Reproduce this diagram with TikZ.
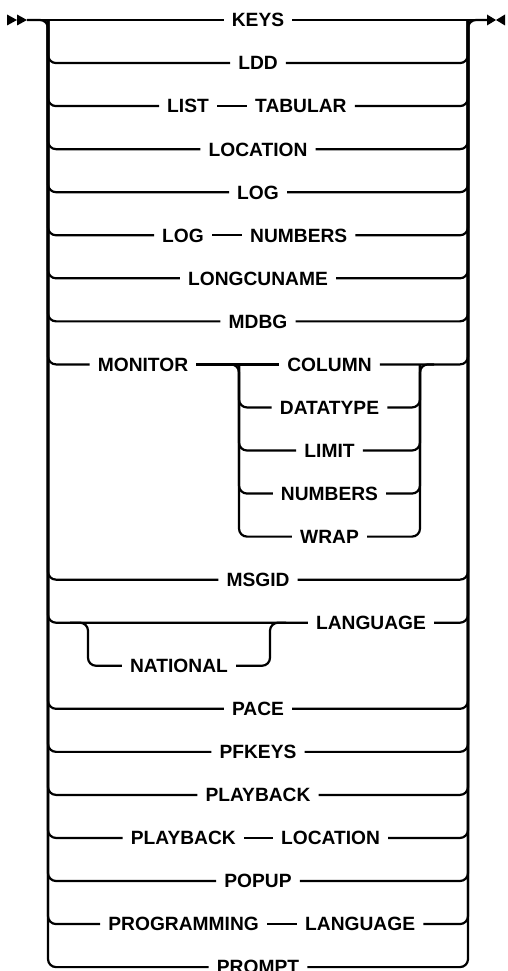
\documentclass[tikz,border=0pt]{standalone}
\usepackage{fontspec}
\newfontfamily\termfont{Liberation Sans}
\begin{document}
\begin{tikzpicture}[x=1pt,y=-1pt,
  term/.style={font={\termfont\bfseries\fontsize{19.2}{19.2}\selectfont}, inner xsep=8pt, inner ysep=0pt, text height=13.7pt, text depth=0pt},
  ln/.style={line width=2.2pt},
  rail/.style={line width=2.2pt, rounded corners=8pt},
  tip/.style={fill=black}]
\useasboundingbox (0,0) rectangle (507,971);

% terms
\node[term] (keys) at (258,20) {KEYS};
\node[term] (ldd) at (258,63.05) {LDD};
\node[term,anchor=east] (list) at (217,106.1) {LIST};
\node[term,anchor=west] (tabular) at (247,106.1) {TABULAR};
\node[term] (location) at (258,149.15) {LOCATION};
\node[term] (log) at (258,192.2) {LOG};
\node[term,anchor=east] (log2) at (212,235.25) {LOG};
\node[term,anchor=west] (numbers) at (242,235.25) {NUMBERS};
\node[term] (longcuname) at (258,278.3) {LONGCUNAME};
\node[term] (mdbg) at (258,321.35) {MDBG};
\node[term] (monitor) at (143,364.4) {MONITOR};
\node[term] (column) at (329.5,364.4) {COLUMN};
\node[term] (datatype) at (329.5,407.45) {DATATYPE};
\node[term] (limit) at (329.5,450.5) {LIMIT};
\node[term] (numbers2) at (329.5,493.55) {NUMBERS};
\node[term] (wrap) at (329.5,536.6) {WRAP};
\node[term] (msgid) at (258,579.65) {MSGID};
\node[term] (language) at (371,622.7) {LANGUAGE};
\node[term] (national) at (179,665.75) {NATIONAL};
\node[term] (pace) at (258,708.8) {PACE};
\node[term] (pfkeys) at (258,751.85) {PFKEYS};
\node[term] (playback) at (258,794.9) {PLAYBACK};
\node[term,anchor=east] (playback2) at (244,837.95) {PLAYBACK};
\node[term,anchor=west] (location2) at (273,837.95) {LOCATION};
\node[term] (popup) at (258,881) {POPUP};
\node[term,anchor=east] (programming) at (267,924.05) {PROGRAMMING};
\node[term,anchor=west] (language2) at (297,924.05) {LANGUAGE};
\node[term] (prompt) at (258,967.1) {PROMPT};

% coordinates
\coordinate (start) at (27,20);
\coordinate (end) at (487,20);
\coordinate (lt) at (48,20);
\coordinate (lb) at (48,967.1);
\coordinate (rt) at (468,20);
\coordinate (mlt) at (239,364.4);
\coordinate (mlb) at (239,536.6);
\coordinate (mrt) at (420,364.4);
\coordinate (mrx) at (434,364.4);
\coordinate (nls) at (70,622.7);
\coordinate (nlb) at (88,665.75);
\coordinate (nrt) at (270,622.7);
\coordinate (nrx) at (286,622.7);

% start / end marks
\fill[tip] (7,14.5) -- (17,20) -- (7,25.5) -- cycle;
\fill[tip] (17,14.5) -- (27,20) -- (17,25.5) -- cycle;
\fill[tip] (487,14.5) -- (496,20) -- (487,25.5) -- cycle;
\fill[tip] (505,14.5) -- (496,20) -- (505,25.5) -- cycle;

% main line
\draw[ln] (start) -- (keys) -- (end);
% outer rails
\draw[rail] (start) -| (lb) -- (prompt.west);
\draw[rail] (prompt.east) -| (rt) -- (end);

% single rows
\foreach \n in {ldd,location,log,longcuname,mdbg,msgid,pace,pfkeys,playback,popup}{
  \draw[rail] (lt) |- (\n.west);
  \draw[rail] (\n.east) -| (rt);
}
% two-term rows
\foreach \a/\b in {list/tabular,log2/numbers,playback2/location2,programming/language2}{
  \draw[rail] (lt) |- (\a.west);
  \draw[ln] (\a) -- (\b);
  \draw[rail] (\b.east) -| (rt);
}

% MONITOR group
\draw[rail] (lt) |- (monitor.west);
\draw[ln] (monitor) -- (column);
\draw[rail] (column.east) -| (rt);
\draw[rail] (monitor.east) -| (mlb) -- (wrap.west);
\draw[rail] (wrap.east) -| (mrt) -- (mrx);
\foreach \n in {datatype,limit,numbers2}{
  \draw[rail] (mlt) |- (\n.west);
  \draw[rail] (\n.east) -| (mrt);
}

% NATIONAL LANGUAGE
\draw[rail] (lt) |- (language.west);
\draw[rail] (language.east) -| (rt);
\draw[rail] (nls) -| (nlb) -- (national.west);
\draw[rail] (national.east) -| (nrt) -- (nrx);
\end{tikzpicture}
\end{document}
